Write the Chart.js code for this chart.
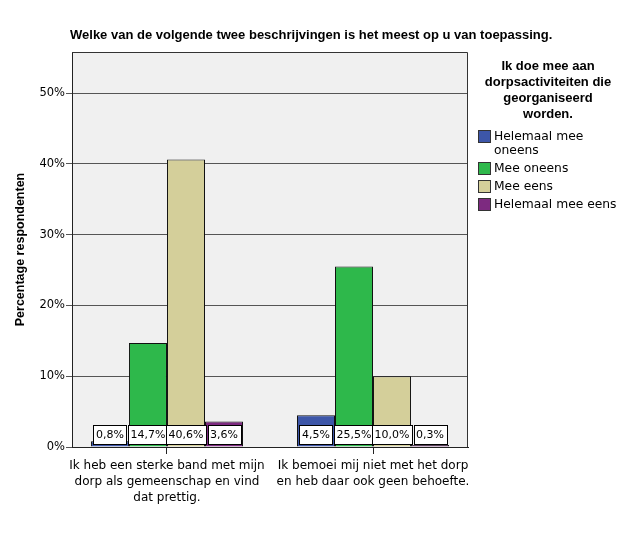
<!DOCTYPE html>
<html>
<head>
<meta charset="utf-8">
<script src="https://cdn.jsdelivr.net/npm/chart.js@4"></script>
<style>
    body { margin: 0; background: #fff; }
    #wrap { width: 626px; height: 541px; }
</style>
</head>
<body>
<div id="wrap"><canvas id="chartContainer"></canvas></div>
<script>
// data
const chartTitle = 'Welke van de volgende twee beschrijvingen is het meest op u van toepassing.';
const legendTitle = ['Ik doe mee aan', 'dorpsactiviteiten die', 'georganiseerd', 'worden.'];
const categories = [
    ['Ik heb een sterke band met mijn', 'dorp als gemeenschap en vind', 'dat prettig.'],
    ['Ik bemoei mij niet met het dorp', 'en heb daar ook geen behoefte.']
];
const seriesNames = ['Helemaal mee oneens', 'Mee oneens', 'Mee eens', 'Helemaal mee eens'];
const legendLines = [['Helemaal mee', 'oneens'], ['Mee oneens'], ['Mee eens'], ['Helemaal mee eens']];
const helemaalOneens = [0.8, 4.5];
const meeOneens = [14.7, 25.5];
const meeEens = [40.6, 10.0];
const helemaalEens = [3.6, 0.3];
const yTicks = [0, 10, 20, 30, 40, 50];
const yMax = 55.8;

const colors = ['#3D56A8', '#2EB84B', '#D4CF9A', '#7D2A80'];

const plotBackground = {
    id: 'plotBackground',
    beforeDraw(chart) {
        const { ctx, chartArea: a } = chart;
        ctx.save();
        ctx.fillStyle = '#F0F0F0';
        ctx.fillRect(a.left, a.top, a.right - a.left, a.bottom - a.top);
        ctx.restore();
    },
    afterDraw(chart) {
        const { ctx, chartArea: a } = chart;
        ctx.save();
        ctx.strokeStyle = '#333';
        ctx.lineWidth = 1;
        ctx.beginPath();
        ctx.moveTo(a.left, a.top + 0.5);
        ctx.lineTo(a.right - 0.5, a.top + 0.5);
        ctx.lineTo(a.right - 0.5, a.bottom);
        ctx.stroke();

        // title
        ctx.fillStyle = '#000';
        ctx.font = 'bold 13px "Liberation Sans"';
        ctx.textBaseline = 'middle';
        ctx.textAlign = 'left';
        ctx.fillText(chartTitle, 70, 35);

        // legend
        ctx.textAlign = 'center';
        ctx.font = 'bold 13px "Liberation Sans"';
        legendTitle.forEach((t, i) => ctx.fillText(t, 548, 66 + i * 16));
        ctx.textAlign = 'left';
        ctx.font = '12.3px "DejaVu Sans"';
        let y = 137;
        chart.data.datasets.forEach((ds, i) => {
            ctx.fillStyle = ds.backgroundColor;
            ctx.fillRect(478.5, y - 6.5, 12, 12);
            ctx.strokeStyle = '#333';
            ctx.strokeRect(478.5, y - 6.5, 12, 12);
            ctx.fillStyle = '#000';
            legendLines[i].forEach((l, j) => ctx.fillText(l, 494, y + j * 14));
            y += legendLines[i].length * 14 + 4;
        });
        ctx.restore();
    }
};

const valueBoxes = {
    id: 'valueBoxes',
    afterDatasetsDraw(chart) {
        const { ctx, chartArea: a } = chart;
        ctx.save();
        ctx.font = '11px "DejaVu Sans"';
        ctx.textAlign = 'center';
        ctx.textBaseline = 'middle';
        chart.data.datasets.forEach((ds, i) => {
            chart.getDatasetMeta(i).data.forEach((bar, j) => {
                const txt = ds.data[j].y.toFixed(1).replace('.', ',') + '%';
                const w = Math.round(ctx.measureText(txt).width + 5);
                const x0 = Math.round(bar.x - w / 2) + 0.5;
                ctx.fillStyle = '#fff';
                ctx.fillRect(x0, a.bottom - 21.5, w, 19);
                ctx.strokeStyle = '#000';
                ctx.lineWidth = 1;
                ctx.strokeRect(x0, a.bottom - 21.5, w, 19);
                ctx.fillStyle = '#000';
                ctx.fillText(txt, bar.x, a.bottom - 12);
            });
        });
        ctx.restore();
    }
};

function initChart() {
    const seriesData = [helemaalOneens, meeOneens, meeEens, helemaalEens];
    let chart = new Chart(document.getElementById('chartContainer'), {
        type: 'bar',
        data: {
            datasets: seriesData.map((d, i) => ({
                label: seriesNames[i],
                data: d.map((v, j) => ({ x: j, y: v })),
                backgroundColor: colors[i],
                borderColor: '#111',
                borderWidth: 1,
                categoryPercentage: 0.738,
                barPercentage: 1
            }))
        },
        options: {
            responsive: true,
            maintainAspectRatio: false,
            animation: false,
            layout: { padding: { top: 52, right: 158, left: 0, bottom: 0 } },
            plugins: {
                legend: { display: false },
                tooltip: { enabled: false }
            },
            scales: {
                x: {
                    type: 'linear',
                    offset: false,
                    min: -0.461,
                    max: 1.461,
                    afterFit: s => { s.height = 94; },
                    afterBuildTicks: s => { s.ticks = categories.map((c, i) => ({ value: i })); },
                    grid: { offset: false, drawOnChartArea: false, tickLength: 7, color: '#222' },
                    border: { color: '#222' },
                    ticks: {
                        color: '#000',
                        padding: 4,
                        maxRotation: 0,
                        autoSkip: false,
                        font: { family: 'DejaVu Sans', size: 12, lineHeight: 1.33 },
                        callback: v => categories[v]
                    }
                },
                y: {
                    min: 0,
                    max: yMax,
                    afterFit: s => { s.width = 72; },
                    afterBuildTicks: s => { s.ticks = yTicks.map(v => ({ value: v })); },
                    grid: { color: '#555', tickLength: 6 },
                    border: { color: '#222' },
                    ticks: {
                        color: '#000',
                        padding: 1,
                        font: { family: 'DejaVu Sans', size: 11.5 },
                        callback: v => v + '%'
                    },
                    title: {
                        display: true,
                        text: 'Percentage respondenten',
                        color: '#000',
                        padding: { top: 13, bottom: 0 },
                        font: { family: 'Liberation Sans', size: 12.5, weight: 'bold' }
                    }
                }
            }
        },
        plugins: [plotBackground, valueBoxes]
    });
}

window.addEventListener('load', initChart);
</script>
</body>
</html>
